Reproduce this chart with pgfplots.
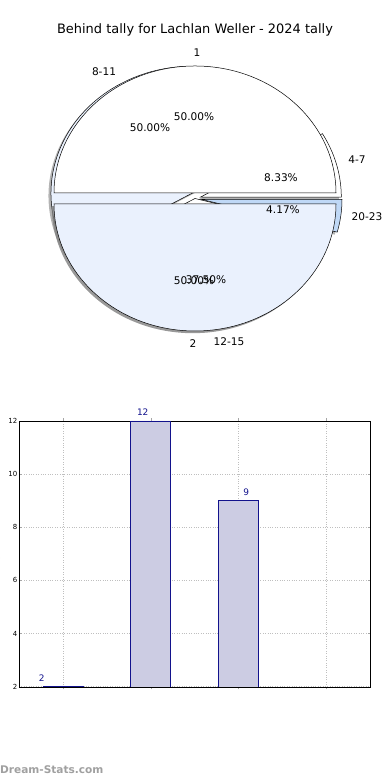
\documentclass[border=0pt]{standalone}
\usepackage{pgfplots}
\pgfplotsset{compat=1.18}
\usepackage{fontspec}
\setmainfont{DejaVu Sans}
\definecolor{pieLight}{HTML}{EAF1FD}
\definecolor{pieBlue}{HTML}{BFD8F6}
\definecolor{barFill}{HTML}{CCCCE3}
\definecolor{barEdge}{HTML}{12128C}
\definecolor{shadowGray}{HTML}{808080}
\definecolor{wmGray}{HTML}{A0A0A0}
% cx, cy, start angle, end angle, fill, extra options
\newcommand{\pieWedge}[6]{%
  \filldraw[fill=#5,#6] (#1,#2) -- ++(#3:141bp and 127bp)
    arc[start angle=#3,end angle=#4,x radius=141bp,y radius=127bp] -- cycle;}
\begin{document}
\begin{tikzpicture}[x=1bp,y=1bp]
\useasboundingbox (0,0) rectangle (390,780);
\clip (0,0) rectangle (390,780);
% ---------------- pie charts ----------------
% tallies: 4-7 = 2, 8-11 = 12, 12-15 = 9, 20-23 = 1 (total 24)
% angles: 2/24*360 = 30, 12/24*360 = 180, 9/24*360 = 135, 1/24*360 = 15
\begin{axis}[at={(0bp,0bp)},anchor=south west,scale only axis,
  width=390bp,height=780bp,xmin=0,xmax=390,ymin=0,ymax=780,
  hide axis,clip=false]
% pie B shadows
\pieWedge{197.8}{580.3}{0}{30}{shadowGray}{draw=none,opacity=0.6}
\pieWedge{189.5}{584.2}{30}{210}{shadowGray}{draw=none,opacity=0.6}
\pieWedge{192.5}{579.0}{210}{345}{shadowGray}{draw=none,opacity=0.6}
\pieWedge{198.5}{578.2}{345}{360}{shadowGray}{draw=none,opacity=0.6}
% pie B wedges
\pieWedge{200.3}{582.8}{0}{30}{white}{draw=black,line width=0.5bp}
\pieWedge{192.0}{586.7}{30}{210}{pieLight}{draw=black,line width=0.5bp}
\pieWedge{195.0}{581.5}{210}{345}{white}{draw=black,line width=0.5bp}
\pieWedge{201.0}{580.7}{345}{360}{pieBlue}{draw=black,line width=0.5bp}
% pie A: 1 = 50%, 2 = 50%
\pieWedge{192.8}{573.8}{180}{360}{shadowGray}{draw=none,opacity=0.8}
\pieWedge{195.0}{587.0}{0}{180}{white}{draw=black,line width=0.5bp}
\pieWedge{195.0}{576.0}{180}{360}{pieLight}{draw=black,line width=0.5bp}
\end{axis}
% title and pie labels
\node[font=\fontsize{13}{15}\selectfont] at (195,750) {Behind tally for Lachlan Weller - 2024 tally};
\begin{scope}[every node/.style={font=\fontsize{10.6}{12}\selectfont,inner sep=0pt}]
\node at (197,727) {1};
\node at (104,708) {8-11};
\node at (194,663) {50.00\%};
\node at (150,652) {50.00\%};
\node at (357,620) {4-7};
\node at (281,602) {8.33\%};
\node at (283,570) {4.17\%};
\node at (367,563) {20-23};
\node at (194,499) {50.00\%};
\node at (206,500) {37.50\%};
\node at (193,436) {2};
\node at (229,438) {12-15};
\end{scope}
% ---------------- bar chart ----------------
\begin{axis}[at={(19bp,93bp)},anchor=south west,scale only axis,
  width=351bp,height=266bp,
  xmin=-0.5,xmax=3.5,ymin=1.99,ymax=12,
  xtick={0,1,2,3},xticklabels={},ytick={2,4,...,12},
  grid=major,grid style={dotted,color=gray!50,line width=0.7bp},
  tick align=inside,major tick length=2.5bp,tick style={color=gray!70},
  axis line style={black,line width=0.8bp},
  tick label style={font=\fontsize{7}{8}\selectfont,color=black},
  yticklabel style={inner sep=1.5bp},
  /pgf/number format/assume math mode=true,
  ybar,bar width=40bp,clip mode=individual,
  restrict y to domain=1.5:12.5]
\addplot[fill=barFill,draw=barEdge,line width=0.7bp] coordinates {(0,2) (1,12) (2,9) (3,1)};
\node[text=barEdge,font=\fontsize{9}{10}\selectfont] at (axis cs:-0.24,2.32) {2};
\node[text=barEdge,font=\fontsize{9}{10}\selectfont] at (axis cs:0.91,12.34) {12};
\node[text=barEdge,font=\fontsize{9}{10}\selectfont] at (axis cs:2.09,9.32) {9};
\end{axis}
\node[rotate=90,font=\fontsize{8.5}{10}\selectfont] at (-4,200) {Behind tally};
\node[anchor=west,inner sep=0pt,text=wmGray,font=\fontsize{10.6}{12}\bfseries] at (0,10) {Dream-Stats.com};
\end{tikzpicture}
\end{document}
